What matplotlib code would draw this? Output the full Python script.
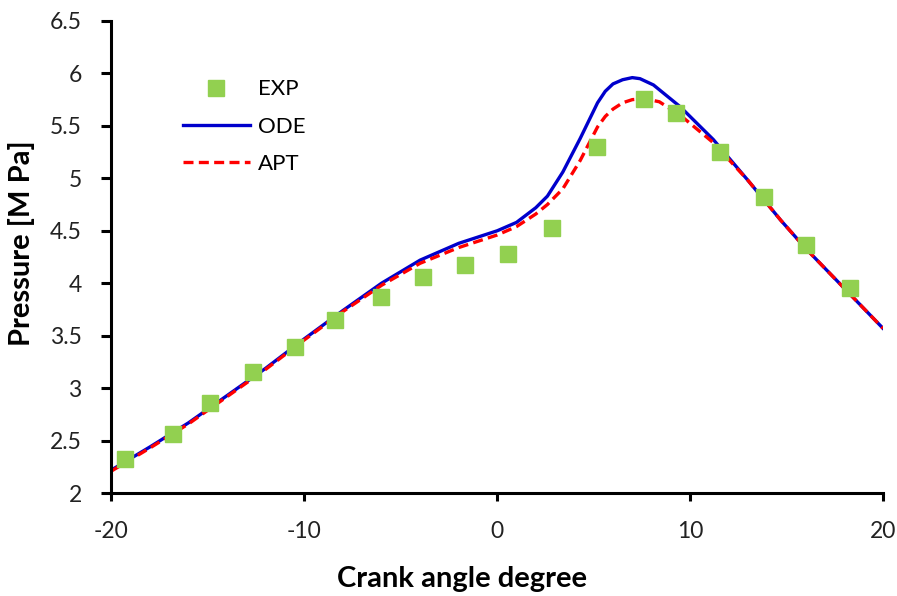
import matplotlib
matplotlib.use("Agg")
import matplotlib.pyplot as plt

exp_x = [-19.3, -16.81, -14.89, -12.66, -10.48, -8.41, -6.03, -3.84, -1.66, 0.57,
         2.85, 5.18, 7.62, 9.28, 11.56, 13.84, 16.02, 18.31]
exp_y = [2.32, 2.56, 2.86, 3.15, 3.39, 3.65, 3.87, 4.06, 4.17, 4.28,
         4.53, 5.3, 5.76, 5.62, 5.25, 4.82, 4.36, 3.95]

ode_x = [-20, -18, -16, -14, -12, -10, -8, -6, -4, -2, -1, 0, 1, 2, 2.6, 3.4, 4.3,
         5.2, 5.6, 6.0, 6.5, 7.0, 7.4, 8.1, 9.5, 11.2, 13, 14.7, 16, 18, 20]
ode_y = [2.22, 2.44, 2.67, 2.93, 3.19, 3.47, 3.74, 4.0, 4.22, 4.38, 4.44, 4.5, 4.58,
         4.72, 4.83, 5.06, 5.38, 5.72, 5.83, 5.9, 5.94, 5.96, 5.95, 5.89, 5.68, 5.37,
         4.98, 4.6, 4.33, 3.95, 3.57]

apt_x = [-20, -18, -16, -14, -12, -10, -8, -6, -4, -2, -1, 0, 1, 2, 2.6, 3.4, 4.3,
         5.2, 5.6, 6.0, 6.5, 7.0, 7.6, 8.4, 9.5, 11.2, 13, 14.7, 16, 18, 20]
apt_y = [2.21, 2.43, 2.66, 2.92, 3.18, 3.46, 3.73, 3.98, 4.19, 4.34, 4.40, 4.46, 4.54,
         4.66, 4.75, 4.9, 5.17, 5.49, 5.59, 5.66, 5.72, 5.75, 5.76, 5.73, 5.60, 5.34,
         4.98, 4.6, 4.33, 3.95, 3.57]

x_ticks = [-20, -10, 0, 10, 20]
x_ticklabels = ["-20", "-10", "0", "10", "20"]
y_ticks = [2, 2.5, 3, 3.5, 4, 4.5, 5, 5.5, 6, 6.5]
y_ticklabels = ["2", "2.5", "3", "3.5", "4", "4.5", "5", "5.5", "6", "6.5"]

plt.rcParams['font.family'] = ['Lato', 'DejaVu Sans']

fig = plt.figure(figsize=(8.97, 5.96), dpi=100)
ax = fig.add_axes([0.1243, 0.1728, 0.8601, 0.792])

ax.plot(exp_x, exp_y, linestyle='none', marker='s', markersize=11.5,
        color='#92D050', label='EXP', zorder=3)
ax.plot(ode_x, ode_y, color='#0000CC', linewidth=2.4, label='ODE', zorder=2)
ax.plot(apt_x, apt_y, color='#FF0000', linewidth=2.4, linestyle=(0, (3, 1.6)),
        label='APT', zorder=2.5)

ax.set_xlim(-20, 20)
ax.set_ylim(2, 6.5)
ax.set_xticks(x_ticks)
ax.set_xticklabels(x_ticklabels)
ax.set_yticks(y_ticks)
ax.set_yticklabels(y_ticklabels)

for s in ['top', 'right']:
    ax.spines[s].set_visible(False)
for s in ['left', 'bottom']:
    ax.spines[s].set_linewidth(2.2)
    ax.spines[s].set_color('black')

ax.tick_params(axis='both', direction='out', width=2.2,
               labelsize=16.5, labelcolor='#222222')
ax.tick_params(axis='y', length=7.5, pad=14)
ax.tick_params(axis='x', length=6, pad=14)

ax.set_xlabel('Crank angle degree', fontsize=21, fontweight='bold')
ax.set_ylabel('Pressure [M Pa]', fontsize=21, fontweight='bold')
ax.xaxis.set_label_coords(0.454, -0.155)
ax.yaxis.set_label_coords(-0.099, 0.53)

leg = ax.legend(loc='upper left', bbox_to_anchor=(0.081, 0.895), frameon=False,
                borderaxespad=0, fontsize=16, handlelength=3.0,
                handletextpad=0.36, labelspacing=0.78)

fig.savefig('out.png', dpi=100)
